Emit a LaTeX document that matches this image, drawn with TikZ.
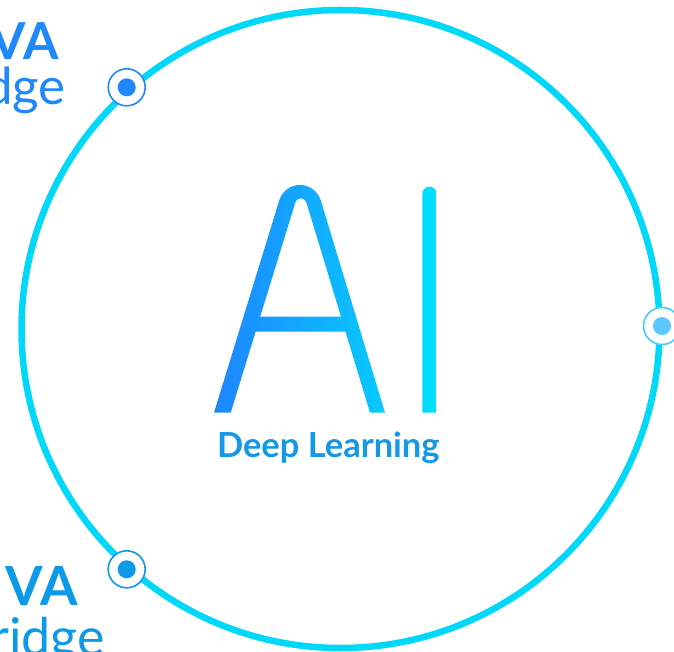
\documentclass[tikz,border=0pt]{standalone}
\usepackage{fontspec}
\setmainfont{Lato}
\definecolor{ringcyan}{RGB}{0,216,250}
\definecolor{aiblue}{RGB}{30,132,255}
\definecolor{aicyan}{RGB}{0,224,255}
\definecolor{topblue}{RGB}{31,136,250}
\definecolor{botblue}{RGB}{12,154,232}
\definecolor{dlblue}{RGB}{22,152,232}
\definecolor{rightdot}{RGB}{92,200,255}
\definecolor{rightring}{RGB}{70,205,255}
\begin{document}
\begin{tikzpicture}[x=1pt,y=-1pt,
  ring/.style={circle, draw=ringcyan, line width=6.5, minimum size=638, inner sep=0},
  dotring/.style={circle, fill=white, line width=1.6, minimum size=37, inner sep=0},
  dotcore/.style={circle, minimum size=18, inner sep=0},
  sidetext/.style={anchor=base east, inner sep=0}]
\useasboundingbox (0,0) rectangle (674,652);
\node[ring] (ring) at (340.5,329) {};
% dots
\node[dotring, draw=topblue] (d1) at (126.7,87.3) {};
\node[dotcore, fill=topblue] (d1c) at (d1) {};
\node[dotring, draw=botblue] (d2) at (126.7,569.3) {};
\node[dotcore, fill=botblue] (d2c) at (d2) {};
\node[dotring, draw=rightring] (d3) at (662,326) {};
\node[dotcore, fill=rightdot] (d3c) at (d3) {};
% side texts
\node[sidetext, text=topblue, font=\fontsize{51}{51}\selectfont\bfseries] (t1) at (59,60) {VA};
\node[sidetext, text=topblue, font=\fontsize{51}{51}\selectfont] (t2) at (66,105) {dge};
\node[sidetext, text=botblue, font=\fontsize{54}{54}\selectfont\bfseries] (t3) at (78,605.3) {VA};
\node[sidetext, text=botblue, font=\fontsize{52}{52}\selectfont] (t4) at (105,655.6) {ridge};
% AI letters with gradient
\begin{scope}[even odd rule]
\clip
  (214,412.7) -- (279.3,200.2) arc[start angle=197.3, end angle=342.7, radius=21.7]
  -- (385,412.7) -- (370,412.7) -- (345.5,331.7) -- (255.6,331.7) -- (230.7,412.7) -- cycle
  (341,316.7) -- (306.4,202.5) arc[start angle=343, end angle=197, radius=5.8]
  -- (260.2,316.7) -- cycle
  (422.3,412.7) -- (422.3,193.9) arc[start angle=180, end angle=360, radius=7.2]
  -- (436.7,412.7) -- cycle;
\shade[left color=aiblue, right color=aicyan] (212,180) rectangle (438,415);
\end{scope}
\node[anchor=base, inner sep=0, text=dlblue, font=\fontsize{34.5}{34.5}\selectfont\bfseries] (dl) at (328.3,457) {Deep Learning};
\end{tikzpicture}
\end{document}
